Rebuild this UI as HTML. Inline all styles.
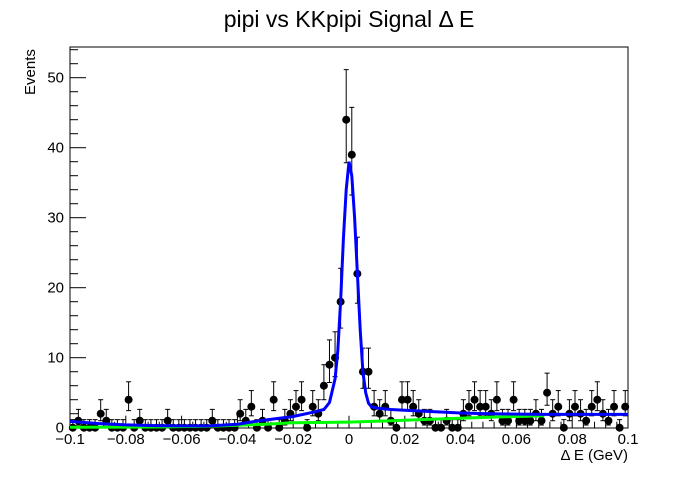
<!DOCTYPE html>
<html><head><meta charset="utf-8"><style>
body{margin:0;background:#fff;}
svg text{font-family:"Liberation Sans",sans-serif;fill:#000;}
</style></head><body>
<svg id="chart" width="698" height="476" viewBox="0 0 698 476">
<rect x="0" y="0" width="698" height="476" fill="#fff"/>
<text x="349" y="27" font-size="23" text-anchor="middle">pipi vs KKpipi Signal Δ E</text>
<text transform="translate(35,95) rotate(-90)" font-size="15">Events</text>
<text x="628" y="460" font-size="15" text-anchor="end">Δ E (GeV)</text>
<rect x="70" y="47" width="558" height="381" fill="none" stroke="#000" stroke-width="1"/>
<g id="axes"></g>
<g id="marks"></g>
</svg>
<script>
const counts=[0,1,0,0,0,2,1,0,0,0,4,0,1,0,0,0,0,1,0,0,0,0,0,0,0,1,0,0,0,0,2,1,3,0,1,0,4,0,1,2,3,4,0,3,2,6,9,10,18,44,39,22,8,8,3,2,3,1,0,4,4,3,2,1,1,0,0,1,0,0,2,3,4,3,3,2,4,1,1,4,1,1,1,2,1,5,2,3,0,2,3,2,1,3,4,2,1,3,0,3];
const fitX=[-0.1,-0.09,-0.08,-0.07,-0.06,-0.05,-0.04,-0.032,-0.02,-0.013,-0.009,-0.007,-0.005,-0.004,-0.003,-0.002,-0.001,0,0.001,0.002,0.003,0.004,0.005,0.006,0.007,0.008,0.01,0.015,0.02,0.03,0.04,0.05,0.07,0.1];
const fitY=[0.9,0.6,0.4,0.3,0.25,0.25,0.5,1.0,1.6,2.2,2.6,3.6,7,11,18,27,34,38,36,30,22,14,8,5,3.5,3.0,2.8,2.6,2.5,2.3,2.1,2.0,1.9,1.9];
const bkgX=[-0.1,-0.07,-0.05,-0.03,-0.02,0,0.02,0.033,0.05,0.07];
const bkgY=[0.05,0.1,0.2,0.5,0.7,0.8,1.05,1.25,1.5,1.7];
const xTicks=[-0.1,-0.08,-0.06,-0.04,-0.02,0,0.02,0.04,0.06,0.08,0.1];
const xTickLabels=["−0.1","−0.08","−0.06","−0.04","−0.02","0","0.02","0.04","0.06","0.08","0.1"];
const yTicks=[0,10,20,30,40,50];
const NS='http://www.w3.org/2000/svg';
const X0=70,X1=628,Y0=427.7,PPU=7.0;
function sx(v){return X0+(v+0.1)/0.2*(X1-X0);}
function sy(v){return Y0-v*PPU;}
function mk(tag,attrs,parent){const e=document.createElementNS(NS,tag);for(const k in attrs)e.setAttribute(k,attrs[k]);parent.appendChild(e);return e;}
const axes=document.getElementById('axes'),marks=document.getElementById('marks');
for(let i=0;i<=50;i++){const v=-0.1+i*0.004;const len=(i%5===0)?12:6;
 const t=mk('line',{x1:sx(v),x2:sx(v),y1:Y0,y2:Y0-len,stroke:'#000','stroke-width':1},axes);
 
 }
xTicks.forEach((v,i)=>{const t=mk('text',{x:sx(v),y:444,'font-size':15,'text-anchor':'middle'},axes);t.textContent=xTickLabels[i];
 
 });
for(let v=0;v<=54;v+=2){const len=(v%10===0)?16:8;
 const t=mk('line',{x1:X0,x2:X0+len,y1:sy(v),y2:sy(v),stroke:'#000','stroke-width':1},axes);
 
 }
yTicks.forEach(v=>{const t=mk('text',{x:64,y:sy(v)+5,'font-size':15,'text-anchor':'end'},axes);t.textContent=String(v);
 
 });
const bw=0.002;
counts.forEach((n,i)=>{const xc=-0.1+(i+0.5)*bw;const px=sx(xc);
 const g=mk('g',{},marks);
 
 
 const hi=n+0.5+Math.sqrt(n+0.25)+(n===0?0.15:0);
 const lo=Math.max(0,n+0.5-Math.sqrt(n+0.25));
 mk('line',{x1:px,x2:px,y1:sy(lo),y2:sy(hi),stroke:'#000','stroke-width':1},g);
 mk('line',{x1:px-2.5,x2:px+2.5,y1:sy(hi),y2:sy(hi),stroke:'#000','stroke-width':1},g);
 if(n>0)mk('line',{x1:px-2.5,x2:px+2.5,y1:sy(lo),y2:sy(lo),stroke:'#000','stroke-width':1},g);
 mk('line',{x1:sx(xc-bw/2),x2:sx(xc+bw/2),y1:sy(n),y2:sy(n),stroke:'#000','stroke-width':1},g);
 mk('circle',{cx:px,cy:sy(n),r:4,fill:'#000'},g);});
function path(xs,ys){return xs.map((x,i)=>(i?'L':'M')+sx(x).toFixed(1)+','+sy(ys[i]).toFixed(1)).join(' ');}
const bk=mk('path',{d:path(bkgX,bkgY),fill:'none',stroke:'#00ff00','stroke-width':3},marks);


const ft=mk('path',{d:path(fitX,fitY),fill:'none',stroke:'#0000ff','stroke-width':3},marks);


</script>
</body></html>
